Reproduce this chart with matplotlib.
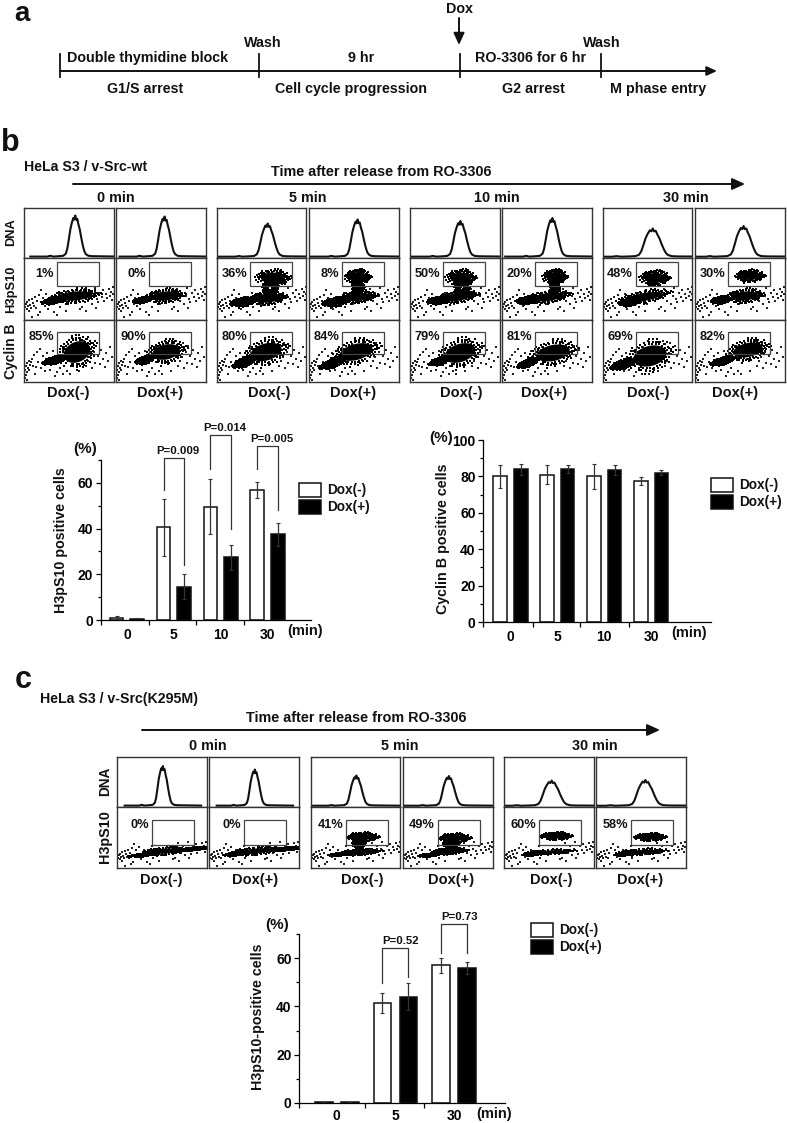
import matplotlib
matplotlib.use('Agg')
import numpy as np
import matplotlib.pyplot as plt
from matplotlib.patches import Ellipse, Rectangle
from matplotlib.ticker import MultipleLocator

plt.rcParams['font.family'] = ['Liberation Sans', 'DejaVu Sans']
plt.rcParams['font.weight'] = 'bold'
plt.rcParams['text.color'] = '#111111'
plt.rcParams['axes.labelweight'] = 'bold'

W, H = 787, 1123
INK = '#111111'
FRAME = '#333333'

#%% Panel a: schedule
a_ticks = [60, 259, 460, 601]
a_line_end = 717
a_top = [("Double thymidine block", 148), ("9 hr", 361), ("RO-3306 for 6 hr", 531)]
a_bottom = [("G1/S arrest", 145), ("Cell cycle progression", 351), ("G2 arrest", 533), ("M phase entry", 658)]
a_wash = [263, 602]

#%% Flow panels, panel b
b_cols = [(24, 114), (116, 206), (217, 306), (309, 399), (410, 500), (502, 592), (603, 692), (695, 785)]
b_rows = [208, 258, 320, 382]
b_dna_peak = [0.57, 0.54, 0.57, 0.54, 0.56, 0.56, 0.56, 0.54]
b_dna_height = [0.83, 0.81, 0.67, 0.75, 0.72, 0.78, 0.57, 0.62]
b_dna_width = [1.0, 1.0, 1.15, 1.05, 1.1, 1.05, 1.45, 1.35]
b_h3_pct = ['1%', '0%', '36%', '8%', '50%', '20%', '48%', '30%']
b_cyc_pct = ['85%', '90%', '80%', '84%', '79%', '81%', '69%', '82%']
b_min = [("0 min", 116), ("5 min", 308), ("10 min", 497), ("30 min", 686)]
b_dox = [68, 160, 269, 353, 461, 544, 648, 735]

# clusters in each dot plot: x, y, width, height, tilt, solid
b_h3_clusters = [
    [(51, 24, 35, 9, 5, 1), (29, 19, 16, 4, 8, 1)],
    [(49, 24, 27, 9, 5, 1), (27, 20, 14, 4, 8, 1)],
    [(56, 42, 24, 11, 0, 1), (53, 32, 12, 14, 0, 0), (51, 22, 26, 9, 5, 1), (26, 18, 18, 6, 8, 1)],
    [(49, 43, 18, 10, 0, 1), (49, 33, 10, 14, 0, 0), (49, 23, 27, 8, 5, 1), (27, 18, 19, 6, 8, 1)],
    [(51, 42, 21, 11, 0, 1), (52, 32, 12, 12, 0, 0), (47, 23, 30, 8, 8, 1), (30, 20, 18, 5, 8, 1)],
    [(53, 43, 17, 10, 0, 1), (53, 32, 8, 12, 0, 0), (46, 23, 32, 8, 8, 1), (26, 20, 16, 5, 8, 1)],
    [(52, 42, 21, 10, 0, 1), (41, 23, 38, 8, 10, 1), (27, 18, 16, 5, 8, 1)],
    [(55, 44, 20, 8, 0, 1), (50, 24, 26, 9, 5, 1), (26, 20, 14, 5, 8, 1)],
]
b_cyc_clusters = [
    [(53, 30, 28, 20, 25, 1), (31, 22, 18, 5, 15, 1)],
    [(50, 30, 28, 15, 12, 1), (29, 22, 14, 5, 15, 1)],
    [(49, 30, 32, 17, 15, 1), (28, 20, 18, 6, 20, 1)],
    [(47, 30, 34, 16, 15, 1), (24, 19, 20, 6, 20, 1)],
    [(50, 29, 32, 18, 18, 1), (30, 21, 16, 5, 15, 1)],
    [(51, 29, 34, 16, 12, 1), (26, 19, 16, 5, 20, 1)],
    [(47, 26, 34, 20, 15, 1), (21, 18, 20, 6, 18, 1)],
    [(53, 32, 30, 14, 12, 1), (28, 21, 18, 5, 15, 1)],
]

#%% Flow panels, panel c
c_cols = [(117, 207), (209, 299), (311, 400), (403, 493), (504, 594), (596, 686)]
c_rows = [757, 807, 868]
c_dna_peak = [0.51, 0.51, 0.51, 0.51, 0.53, 0.55]
c_dna_height = [0.8, 0.73, 0.61, 0.6, 0.51, 0.52]
c_dna_width = [0.85, 0.85, 1.0, 1.05, 1.4, 1.4]
c_h3_pct = ['0%', '0%', '41%', '49%', '60%', '58%']
c_min = [("0 min", 208), ("5 min", 400), ("30 min", 595)]
c_dox = [161, 255, 362, 451, 551, 640]
c_h3_clusters = [
    [(48, 17, 30, 5, 4, 1), (26, 13, 20, 2, 5, 1), (76, 19, 24, 2, 4, 1)],
    [(47, 17, 36, 5, 5, 1), (27, 14, 18, 2, 5, 1), (77, 19, 22, 2, 4, 1)],
    [(52, 31, 22, 6, 0, 1), (48, 25, 9, 8, 0, 1), (50, 16, 28, 4, 3, 1), (30, 14, 18, 2, 5, 1)],
    [(52, 30, 22, 6, 0, 1), (48, 25, 11, 8, 0, 1), (47, 17, 24, 4, 3, 1), (27, 13, 16, 2, 5, 1)],
    [(52, 32, 22, 5, 0, 1), (46, 16, 34, 3, 3, 1), (29, 14, 14, 2, 5, 1)],
    [(54, 31, 22, 5, 0, 1), (45, 16, 34, 4, 3, 1), (29, 14, 14, 2, 5, 1)],
]

# DNA peak outline (offset from peak, fraction of height)
dna_dx = [-45, -28, -25, -22, -16, -12, -9.5, -8, -6.5, -5, -3.5, -2, -1, 0, 0.8, 2, 3, 4.5, 6, 7.5, 9, 10.5, 13, 17, 45]
dna_dy = [0.01, 0.01, 0.03, 0.01, 0.02, 0.03, 0.08, 0.20, 0.42, 0.66, 0.82, 0.94, 0.90, 1.0, 0.90, 0.92, 0.80, 0.66, 0.46, 0.28, 0.14, 0.07, 0.03, 0.02, 0.01]

# stray dots common to the H3pS10 plots, panel pixels from lower left
h3_stray_x = [1, 2, 3, 3, 4, 5, 5, 6, 7, 8, 9, 10, 11, 12, 13, 15, 16, 18, 19, 21, 14, 8, 17, 24, 30, 36, 42, 58, 64, 66, 68, 70, 71, 73, 74, 76, 78, 79, 80, 82, 83, 85, 86, 87, 88, 89, 89, 35, 44, 62, 72, 22, 27, 33, 56, 61]
h3_stray_y = [13, 16, 11, 18, 14, 20, 9, 15, 12, 21, 17, 14, 23, 12, 19, 25, 8, 16, 22, 14, 5, 3, 30, 11, 8, 13, 9, 13, 19, 27, 16, 24, 32, 21, 18, 27, 23, 30, 19, 26, 22, 31, 24, 28, 20, 26, 33, 27, 16, 9, 12, 26, 23, 5, 11, 31]
# same for Cyclin B plots
cyc_stray_x = [1, 1, 2, 2, 3, 3, 4, 5, 5, 6, 7, 8, 9, 10, 12, 13, 14, 16, 17, 19, 21, 23, 26, 29, 33, 36, 39, 43, 62, 64, 66, 68, 70, 71, 72, 74, 76, 77, 79, 81, 82, 84, 86, 88, 3, 11, 31, 40, 55, 60, 46, 67]
cyc_stray_y = [4, 12, 7, 16, 10, 19, 14, 12, 21, 17, 20, 23, 16, 27, 15, 30, 20, 33, 14, 26, 11, 29, 12, 31, 10, 14, 8, 11, 16, 21, 25, 14, 30, 19, 36, 26, 18, 32, 23, 15, 29, 21, 35, 25, 2, 8, 6, 35, 11, 41, 8, 39]

# rim dots round a cluster, in units of its half axes
halo_u = [-1.30, -1.22, -1.14, -1.08, -1.05, -0.98, -0.90, -0.86, -0.74, -0.70, -0.62, -0.52, -0.40, -0.33, -0.21, -0.12, 0.03, 0.11, 0.24, 0.32, 0.45, 0.56, 0.63, 0.71, 0.80, 0.88, 0.94, 1.02, 1.06, 1.13, 1.20, 1.28, 1.36, -0.48, 0.15, 0.58, -0.05, 0.38, -0.78, 0.84, -1.00, 1.00]
halo_v = [0.10, -0.28, 0.42, -0.62, 0.16, 0.62, -0.44, 0.82, -0.90, 0.78, -0.98, 1.08, -1.12, 1.16, -1.22, 1.20, -1.28, 1.30, -1.18, 1.14, -1.24, 1.02, -0.94, 0.98, -0.72, 0.64, -0.56, 0.38, -0.30, 0.14, -0.22, 0.24, -0.06, -1.42, 1.44, 1.28, -1.40, 1.38, 1.04, -0.90, -0.08, 0.80]

#%% Bar charts
b1_groups = ['0', '5', '10', '30']
b1_white = [1.0, 40.5, 49.5, 57.0]
b1_black = [0.4, 14.5, 27.5, 37.5]
b1_err_w = [0.6, 12.5, 12.0, 3.5]
b1_err_b = [0.4, 5.5, 5.5, 5.0]
b1_ticks = [-0.56, 0.47, 1.47, 2.50]
b1_brackets = [(1, 56.7, 71, 24, 'P=0.009'), (2, 66, 81, 40, 'P=0.014'), (3, 66, 76, 48, 'P=0.005')]

b2_groups = ['0', '5', '10', '30']
b2_white = [80.0, 81.0, 80.0, 77.5]
b2_black = [84.0, 84.0, 83.5, 82.0]
b2_err_w = [6.5, 5.3, 6.7, 2.0]
b2_err_b = [3.0, 2.3, 2.5, 1.3]
b2_ticks = [-0.58, 0.48, 1.48, 2.52]

b3_groups = ['0', '5', '30']
b3_white = [0.5, 41.5, 57.0]
b3_black = [0.5, 44.0, 56.0]
b3_err_w = [0.0, 4.2, 3.0]
b3_err_b = [0.0, 5.5, 2.5]
b3_ticks = [-0.64, 0.48, 1.49]
b3_brackets = [(1, 49.8, 64.2, 52.1, 'P=0.52'), (2, 62.2, 74, 62.2, 'P=0.73')]


def px_axes(x0, y0, x1, y1):
    return fig.add_axes([x0 / W, 1 - y1 / H, (x1 - x0) / W, (y1 - y0) / H])


def frame(ax):
    ax.set_xticks([])
    ax.set_yticks([])
    for s in ax.spines.values():
        s.set_linewidth(1.0)
        s.set_color(FRAME)


def dna_panel(col, top, bottom, peak, height, width):
    ax = px_axes(col[0], top, col[1], bottom)
    pw = col[1] - col[0]
    x = peak * pw + np.array(dna_dx) * width
    y = 1.0 + height * (bottom - top) * np.array(dna_dy)
    ax.plot(x, y, color=INK, lw=1.5, solid_joinstyle='round')
    ax.set_xlim(0, pw)
    ax.set_ylim(0, bottom - top)
    frame(ax)


def dot_panel(col, top, bottom, clusters, sx, sy, gate, pct, label_drop):
    ax = px_axes(col[0], top, col[1], bottom)
    pw, ph = col[1] - col[0], bottom - top
    ax.scatter(sx, sy, s=0.9, color='#222222', lw=0, marker='s')
    for cx, cy, w, h, tilt, solid in clusters:
        th = np.deg2rad(tilt)
        for k in ([1.15, 0.95] if solid else [1.0, 0.75, 0.5, 0.3]):
            u = np.array(halo_u) * k * w / 2
            v = np.array(halo_v) * k * h / 2
            ax.scatter(cx + u * np.cos(th) - v * np.sin(th), cy + u * np.sin(th) + v * np.cos(th),
                       s=0.6, color='k', lw=0, marker='s')
        if solid:
            ax.add_patch(Ellipse((cx, cy), w, h, angle=tilt, fc='k', ec='none'))
    gx, gy, gw, gh = gate
    ax.add_patch(Rectangle((gx, gy), gw, gh, fc='none', ec='#444444', lw=0.9, zorder=5))
    ax.text(gx - 3, gy + gh - label_drop, pct, ha='right', va='center', fontsize=9.2)
    ax.set_xlim(0, pw)
    ax.set_ylim(0, ph)
    frame(ax)


def bar_chart(box, groups, white, black, err_w, err_b, ticks, xlim, ymax, off, wid, brackets=(), xpad=6):
    ax = px_axes(*box)
    ax.patch.set_alpha(0)
    pos = np.arange(len(groups))
    ax.bar(pos - off, white, wid, color='white', edgecolor=INK, lw=1.1,
           yerr=err_w, error_kw=dict(ecolor=FRAME, elinewidth=0.9, capsize=1.6, capthick=0.8))
    ax.bar(pos + off, black, wid, color='black', edgecolor=INK, lw=1.1,
           yerr=err_b, error_kw=dict(ecolor=FRAME, elinewidth=0.9, capsize=1.6, capthick=0.8))
    ax.set_xlim(*xlim)
    ax.set_ylim(0, ymax)
    for s in ['top', 'right']:
        ax.spines[s].set_visible(False)
    for s in ['left', 'bottom']:
        ax.spines[s].set_linewidth(0.9)
    ax.yaxis.set_major_locator(MultipleLocator(20))
    ax.yaxis.set_minor_locator(MultipleLocator(10))
    ax.tick_params(axis='y', which='major', length=3.5, width=0.9, labelsize=10, pad=2)
    ax.tick_params(axis='y', which='minor', length=2.5, width=0.9)
    ax.set_xticks(ticks)
    ax.set_xticklabels([])
    ax.tick_params(axis='x', which='major', length=3.5, width=0.9)
    ax.set_xticks(pos, labels=groups, minor=True)
    ax.tick_params(axis='x', which='minor', length=0, labelsize=10, pad=xpad)
    for g, left, top, right, label in brackets:
        ax.plot([g - off, g - off, g + off, g + off], [left, top, top, right], color=FRAME, lw=0.9, clip_on=False)
        ax.text(g + off * 0.4, top + ymax * 0.012, label, ha='center', va='bottom', fontsize=8.2)
    return ax


def legend_boxes(x, y_white, y_black, tx):
    page.add_patch(Rectangle((x, y_white), 22, 14, fc='white', ec=INK, lw=1.1))
    page.add_patch(Rectangle((x, y_black), 22, 14, fc='black', ec=INK, lw=1.1))
    page.text(tx, y_white + 7, 'Dox(-)', va='center', fontsize=9.8)
    page.text(tx, y_black + 7, 'Dox(+)', va='center', fontsize=9.8)


def arrow(x0, y0, x1, y1, scale, lw=1.4):
    page.annotate('', xy=(x1, y1), xytext=(x0, y0),
                  arrowprops=dict(arrowstyle='-|>,head_length=0.55,head_width=0.25', mutation_scale=scale,
                                  lw=lw, color=INK, shrinkA=0, shrinkB=0))


fig = plt.figure(figsize=(W / 100, H / 100), dpi=100)
page = fig.add_axes([0, 0, 1, 1], zorder=10)
page.set_xlim(0, W)
page.set_ylim(H, 0)
page.axis('off')

#%% Panel a
page.text(22, 14, 'a', fontsize=20, ha='center', va='center')
arrow(a_ticks[0], 71, a_line_end, 71, 11)
for t in a_ticks:
    page.plot([t, t], [54, 77], color=INK, lw=1.3)
for lab, x in a_top:
    page.text(x, 58, lab, ha='center', va='center', fontsize=10.3)
for lab, x in a_bottom:
    page.text(x, 89, lab, ha='center', va='center', fontsize=10.3)
for x in a_wash:
    page.text(x, 43, 'Wash', ha='center', va='center', fontsize=10.3)
page.text(459, 9, 'Dox', ha='center', va='center', fontsize=10.3)
arrow(459, 18, 459, 45, 13)

#%% Panel b
page.text(10, 143, 'b', fontsize=22, ha='center', va='center')
page.text(24, 167, 'HeLa S3 / v-Src-wt', va='center', fontsize=10.2)
page.text(381, 172, 'Time after release from RO-3306', ha='center', va='center', fontsize=10.4)
arrow(73, 184, 745, 184, 14)
for lab, x in b_min:
    page.text(x, 198, lab, ha='center', va='center', fontsize=10.4)
for lab, y, fs in [('DNA', 232, 9.3), ('H3pS10', 289, 9.3), ('Cyclin B', 351, 10)]:
    page.text(11, y, lab, rotation=90, ha='center', va='center', fontsize=fs)

for i, col in enumerate(b_cols):
    dna_panel(col, b_rows[0], b_rows[1], b_dna_peak[i], b_dna_height[i], b_dna_width[i])
    dot_panel(col, b_rows[1], b_rows[2], b_h3_clusters[i], h3_stray_x, h3_stray_y,
              (33, 34.5, 42, 23.5), b_h3_pct[i], 12)
    dot_panel(col, b_rows[2], b_rows[3], b_cyc_clusters[i], cyc_stray_x, cyc_stray_y,
              (33, 28, 42, 22.5), b_cyc_pct[i], 5)
    page.text(b_dox[i], 393, 'Dox(+)' if i % 2 else 'Dox(-)', ha='center', va='center', fontsize=10.5)

# H3pS10 bars
bar_chart((100.7, 460, 310.7, 620), b1_groups, b1_white, b1_black, b1_err_w, b1_err_b, b1_ticks,
          (-0.56, 3.92), 70, 0.22, 0.29, b1_brackets)
page.text(85, 449, '(%)', ha='center', va='center', fontsize=11)
page.text(305, 631, '(min)', ha='center', va='center', fontsize=10.5)
page.text(61, 540, 'H3pS10 positive cells', rotation=90, ha='center', va='center', fontsize=10.3)
legend_boxes(299, 483, 500, 327)

# Cyclin B bars
bar_chart((483.3, 440, 710.7, 622), b2_groups, b2_white, b2_black, b2_err_w, b2_err_b, b2_ticks,
          (-0.58, 4.27), 100, 0.22, 0.29)
page.text(441, 438, '(%)', ha='center', va='center', fontsize=11)
page.text(689, 633, '(min)', ha='center', va='center', fontsize=10.5)
page.text(443, 539, 'Cyclin B positive cells', rotation=90, ha='center', va='center', fontsize=10.3)
legend_boxes(711, 478, 495, 739)

#%% Panel c
page.text(23, 680, 'c', fontsize=22, ha='center', va='center')
page.text(40, 699, 'HeLa S3 / v-Src(K295M)', va='center', fontsize=10.2)
page.text(356, 718, 'Time after release from RO-3306', ha='center', va='center', fontsize=10.4)
arrow(142, 730, 660, 730, 14)
for lab, x in c_min:
    page.text(x, 746, lab, ha='center', va='center', fontsize=10.4)
for lab, y, fs in [('DNA', 781, 9.8), ('H3pS10', 837, 10.4)]:
    page.text(105, y, lab, rotation=90, ha='center', va='center', fontsize=fs)

for i, col in enumerate(c_cols):
    dna_panel(col, c_rows[0], c_rows[1], c_dna_peak[i], c_dna_height[i], c_dna_width[i])
    dot_panel(col, c_rows[1], c_rows[2], c_h3_clusters[i], h3_stray_x, np.array(h3_stray_y) * 0.8,
              (35, 23, 42, 25), c_h3_pct[i], 5)
    page.text(c_dox[i], 880, 'Dox(+)' if i % 2 else 'Dox(-)', ha='center', va='center', fontsize=10.5)

bar_chart((299.3, 934, 505, 1103), b3_groups, b3_white, b3_black, b3_err_w, b3_err_b, b3_ticks,
          (-0.64, 2.87), 70, 0.222, 0.30, b3_brackets, xpad=4)
page.text(277, 925, '(%)', ha='center', va='center', fontsize=11)
page.text(494, 1114, '(min)', ha='center', va='center', fontsize=10.5)
page.text(258, 1017, 'H3pS10-positive cells', rotation=90, ha='center', va='center', fontsize=10.3)
legend_boxes(531, 923, 940, 559)

fig.savefig('out.png', dpi=100)
